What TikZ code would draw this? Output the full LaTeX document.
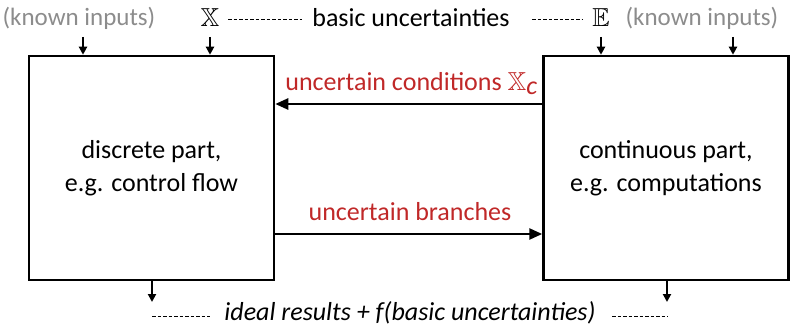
\documentclass[tikz,border=0pt]{standalone}
\usepackage{amssymb}
\usepackage{fontspec}
\setmainfont{Carlito}
\usetikzlibrary{arrows.meta}
\definecolor{redtxt}{RGB}{192,40,40}
\definecolor{graytxt}{RGB}{140,140,140}
\begin{document}
\begin{tikzpicture}[x=1pt,y=-1pt,
  every node/.style={font=\fontsize{26}{31}\selectfont, inner sep=0pt},
  part/.style={draw, line width=2.5pt, minimum width=245pt, minimum height=224pt, align=center},
  inarrow/.style={line width=2pt, -{Triangle[length=8pt,width=8pt]}},
  bigarrow/.style={line width=2.5pt, -{Triangle[length=13pt,width=11pt]}},
  dashline/.style={line width=1pt, dash pattern=on 3.5pt off 2pt},
  known/.style={text=graytxt, font=\fontsize{25}{30}\selectfont},
  redlab/.style={text=redtxt}]
\useasboundingbox (0,0) rectangle (801,326);
% boxes
\node[part] (disc) at (151.5,168) {discrete part,\\[2pt] e.g. control flow};
\node[part] (cont) at (666,168) {continuous part,\\[2pt] e.g. computations};
% top labels
\node[known] (kin1) at (79,18) {(known inputs)};
\node (X) at (210,18) {$\mathbb{X}$};
\node (bu) at (411,18) {basic uncertainties};
\node (E) at (601,18) {$\mathbb{E}$};
\node[known] (kin2) at (702,18) {(known inputs)};
\draw[dashline] (228,20) coordinate (d1a) -- (302,20) coordinate (d1b);
\draw[dashline] (532,20) coordinate (d2a) -- (582,20) coordinate (d2b);
% top arrows
\coordinate (t1) at (83,37);
\coordinate (t2) at (210,37);
\coordinate (t3) at (601,37);
\coordinate (t4) at (733,37);
\draw[inarrow] (t1) -- (t1 |- disc.north);
\draw[inarrow] (t2) -- (t2 |- disc.north);
\draw[inarrow] (t3) -- (t3 |- cont.north);
\draw[inarrow] (t4) -- (t4 |- cont.north);
% middle arrows
\coordinate (ua) at (543,104);
\coordinate (la) at (274,234);
\draw[bigarrow] (ua) -- (ua -| disc.east);
\draw[bigarrow] (la) -- (la -| cont.west);
\node[redlab, anchor=east] (uc) at (538,84) {uncertain conditions $\mathbb{X}_{\textit{c}}$};
\node[redlab] (ub) at (410,212) {uncertain branches};
% bottom arrows
\coordinate (b1) at (152,302);
\coordinate (b2) at (667,302);
\draw[inarrow] (b1 |- disc.south) -- (b1);
\draw[inarrow] (b2 |- cont.south) -- (b2);
\node (res) at (410,313) {\itshape ideal results + f(basic uncertainties)};
\draw[dashline] (152,316) coordinate (d3a) -- (210,316) coordinate (d3b);
\draw[dashline] (612,316) coordinate (d4a) -- (668,316) coordinate (d4b);
\end{tikzpicture}
\end{document}
